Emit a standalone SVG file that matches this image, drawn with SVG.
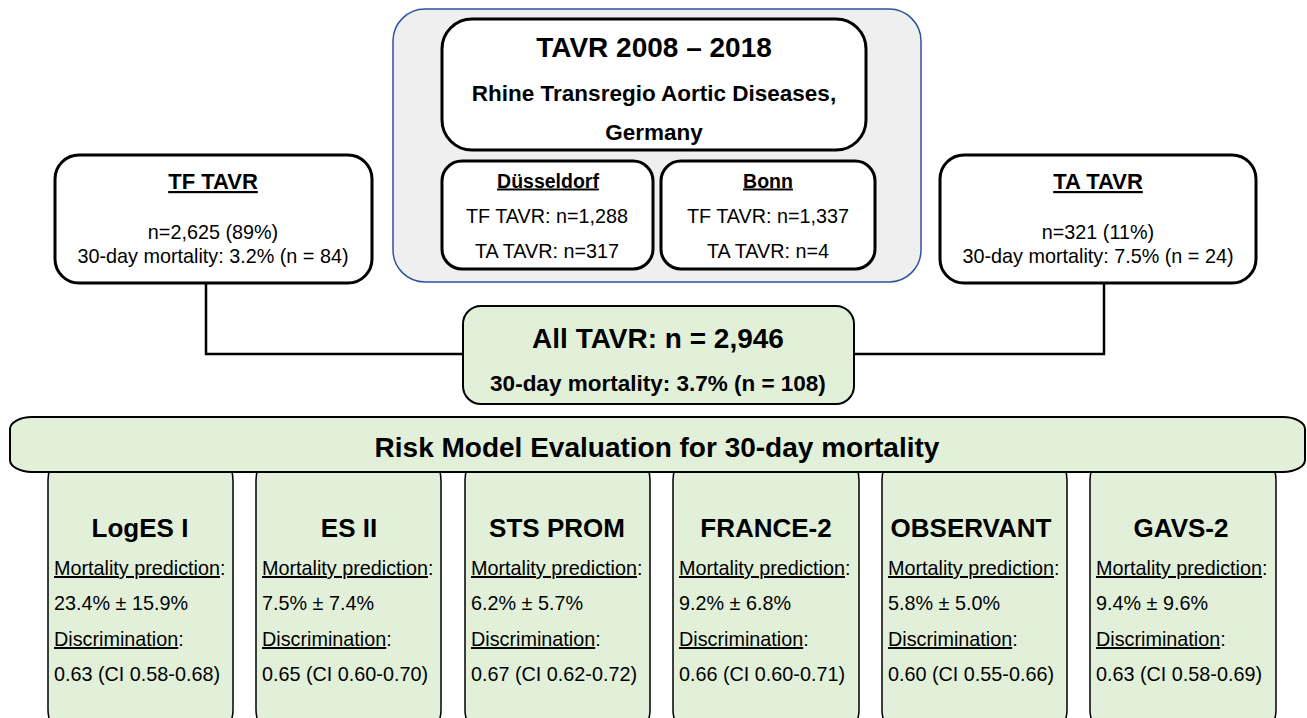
<svg xmlns="http://www.w3.org/2000/svg" width="1307" height="718" viewBox="0 0 1307 718">
<style>
text{font-family:"Liberation Sans",Arial,sans-serif;fill:#000}
.b{font-weight:bold}
.c{text-anchor:middle}
.u{text-decoration:underline}
.box{fill:#fff;stroke:#000;stroke-width:3}
.grn{fill:#e2f0d9;stroke:#000;stroke-width:2}
.mdl{fill:#e2f0d9;stroke:#000;stroke-width:1.5}
.conn{fill:none;stroke:#000;stroke-width:2.5}
.t20{font-size:19.8px}
.h{font-weight:bold;font-size:26px;text-anchor:middle}
</style>
<rect width="1307" height="718" fill="#fff"/>
<g id="connectors">
<polyline class="conn" points="206,283 206,354 463,354"/>
<polyline class="conn" points="1104,283 1104,354 854,354"/>
</g>
<g id="registry">
<rect x="393" y="9" width="528" height="273" rx="32" fill="#efefef" stroke="#2f52a0" stroke-width="1.5"/>
</g>
<g id="title">
<rect class="box" x="442" y="19" width="424" height="131" rx="30"/>
<text class="b c" x="654" y="56.5" font-size="28">TAVR 2008 – 2018</text>
<text class="b c" x="654" y="100.5" font-size="22.5">Rhine Transregio Aortic Diseases,</text>
<text class="b c" x="654" y="139.5" font-size="22.5">Germany</text>
</g>
<g id="duesseldorf">
<rect class="box" x="442" y="161" width="211" height="108" rx="20"/>
<text class="b c u" x="548" y="187.5" font-size="19.5">Düsseldorf</text>
<text class="c t20" x="547" y="223">TF TAVR: n=1,288</text>
<text class="c t20" x="547" y="258">TA TAVR: n=317</text>
</g>
<g id="bonn">
<rect class="box" x="661" y="161" width="214" height="108" rx="20"/>
<text class="b c u" x="768" y="187.5" font-size="19.5">Bonn</text>
<text class="c t20" x="768" y="223">TF TAVR: n=1,337</text>
<text class="c t20" x="768" y="258">TA TAVR: n=4</text>
</g>
<g id="tf">
<rect class="box" x="55" y="155" width="317" height="128" rx="24"/>
<text class="b c u" x="213" y="189" font-size="22">TF TAVR</text>
<text class="c t20" x="213" y="239">n=2,625 (89%)</text>
<text class="c t20" x="213" y="263">30-day mortality: 3.2% (n = 84)</text>
</g>
<g id="ta">
<rect class="box" x="940" y="155" width="316" height="128" rx="24"/>
<text class="b c u" x="1098" y="189" font-size="22">TA TAVR</text>
<text class="c t20" x="1098" y="239">n=321 (11%)</text>
<text class="c t20" x="1098" y="263">30-day mortality: 7.5% (n = 24)</text>
</g>
<g id="all">
<rect class="grn" x="463" y="306" width="391" height="98" rx="18"/>
<text class="b c" x="658" y="348" font-size="28">All TAVR: n = 2,946</text>
<text class="b c" x="658" y="391" font-size="22.5">30-day mortality: 3.7% (n = 108)</text>
</g>
<g id="loges">
<rect class="mdl" x="48" y="450" width="185" height="290" rx="30"/>
<text class="h" x="140" y="537">LogES I</text>
<text class="t20" x="54" y="575"><tspan class="u">Mortality prediction</tspan>:</text>
<text class="t20" x="54" y="610">23.4% ± 15.9%</text>
<text class="t20" x="54" y="646"><tspan class="u">Discrimination</tspan>:</text>
<text class="t20" x="54" y="681">0.63 (CI 0.58-0.68)</text>
</g>
<g id="es2">
<rect class="mdl" x="256" y="450" width="185" height="290" rx="30"/>
<text class="h" x="349" y="537">ES II</text>
<text class="t20" x="262" y="575"><tspan class="u">Mortality prediction</tspan>:</text>
<text class="t20" x="262" y="610">7.5% ± 7.4%</text>
<text class="t20" x="262" y="646"><tspan class="u">Discrimination</tspan>:</text>
<text class="t20" x="262" y="681">0.65 (CI 0.60-0.70)</text>
</g>
<g id="sts">
<rect class="mdl" x="465" y="450" width="185" height="290" rx="30"/>
<text class="h" x="557" y="537">STS PROM</text>
<text class="t20" x="471" y="575"><tspan class="u">Mortality prediction</tspan>:</text>
<text class="t20" x="471" y="610">6.2% ± 5.7%</text>
<text class="t20" x="471" y="646"><tspan class="u">Discrimination</tspan>:</text>
<text class="t20" x="471" y="681">0.67 (CI 0.62-0.72)</text>
</g>
<g id="france">
<rect class="mdl" x="673" y="450" width="186" height="290" rx="30"/>
<text class="h" x="766" y="537">FRANCE-2</text>
<text class="t20" x="679" y="575"><tspan class="u">Mortality prediction</tspan>:</text>
<text class="t20" x="679" y="610">9.2% ± 6.8%</text>
<text class="t20" x="679" y="646"><tspan class="u">Discrimination</tspan>:</text>
<text class="t20" x="679" y="681">0.66 (CI 0.60-0.71)</text>
</g>
<g id="observant">
<rect class="mdl" x="882" y="450" width="185" height="290" rx="30"/>
<text class="h" x="971" y="537">OBSERVANT</text>
<text class="t20" x="888" y="575"><tspan class="u">Mortality prediction</tspan>:</text>
<text class="t20" x="888" y="610">5.8% ± 5.0%</text>
<text class="t20" x="888" y="646"><tspan class="u">Discrimination</tspan>:</text>
<text class="t20" x="888" y="681">0.60 (CI 0.55-0.66)</text>
</g>
<g id="gavs">
<rect class="mdl" x="1090" y="450" width="186" height="290" rx="30"/>
<text class="h" x="1181" y="537">GAVS-2</text>
<text class="t20" x="1096" y="575"><tspan class="u">Mortality prediction</tspan>:</text>
<text class="t20" x="1096" y="610">9.4% ± 9.6%</text>
<text class="t20" x="1096" y="646"><tspan class="u">Discrimination</tspan>:</text>
<text class="t20" x="1096" y="681">0.63 (CI 0.58-0.69)</text>
</g>
<g id="banner">
<rect class="grn" x="10" y="417" width="1295" height="55" rx="22" ry="12"/>
<text class="b c" x="657" y="457" font-size="28">Risk Model Evaluation for 30-day mortality</text>
</g>
</svg>
